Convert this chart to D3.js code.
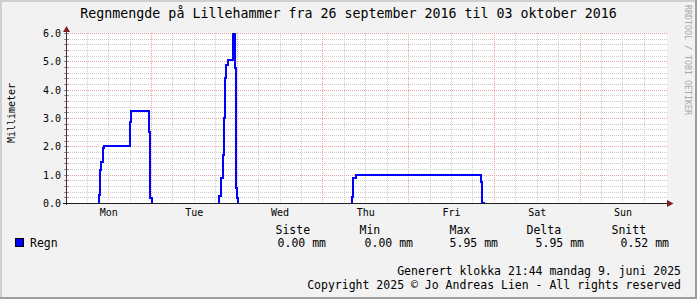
<!DOCTYPE html>
<html>
<head>
<meta charset="utf-8">
<script src="https://cdn.jsdelivr.net/npm/d3@7"></script>
<style>
  html, body { margin: 0; padding: 0; background: #f2f2f2; }
  svg { display: block; font-family: "DejaVu Sans Mono", monospace; }
</style>
</head>
<body>
<div class="chart"></div>
<script>
const title = "Regnmengde på Lillehammer fra 26 september 2016 til 03 oktober 2016";
const days = ["Mon", "Tue", "Wed", "Thu", "Fri", "Sat", "Sun"];
const yTicks = [0, 1, 2, 3, 4, 5, 6];

// hours since Mon 26 sept 00:00, null breaks the line
const hours = [
  9.16, 9.16, 9.5, 9.95, 10.4, 10.75, 17.9, 18.25, 23.4, 23.7, 24.1, 24.5, 24.5,
  43.0, 43.0, 43.5, 43.9, 44.2, 44.4, 44.7, 44.9, 45.4, 46.8, 47.4, 47.6, 47.9, 48.2, 48.5, 48.5,
  80.05, 80.05, 80.5, 81.2, 116.2, 116.6, 117.4
];
const rain = [
  0, 0.28, 1.16, 1.46, 1.93, 2.02, 2.85, 3.25, 2.52, 0.18, 0, 0, null,
  0, 0.24, 0.88, 1.71, 2.18, 3.0, 4.41, 4.88, 5.06, 5.95, 4.76, 0.53, 0.18, 0, 0, null,
  0, 0.22, 0.87, 1.0, 0.75, 0, 0
];

const statNames = ["Siste", "Min", "Max", "Delta", "Snitt"];
const statValues = [0.00, 0.00, 5.95, 5.95, 0.52];
const seriesName = "Regn";
const unitLabel = "Millimeter";
const footer1 = "Generert klokka 21:44 mandag 9. juni 2025";
const footer2 = "Copyright 2025 © Jo Andreas Lien - All rights reserved";
const watermark = "RRDTOOL / TOBI OETIKER";

const width = 697;
const height = 299;
const x0 = 65.8, x1 = 665.8;
const yBottom = 203.5, yTop = 33.5;

const svg = d3.select(".chart")
  .append("svg")
  .attr("width", width)
  .attr("height", height);

// background + 3d frame
svg.append("rect").attr("width", width).attr("height", height).attr("fill", "#f2f2f2");
svg.append("rect").attr("x", 0).attr("y", 0).attr("width", width).attr("height", 2).attr("fill", "#cfcfcf");
svg.append("rect").attr("x", 0).attr("y", 0).attr("width", 2).attr("height", height).attr("fill", "#cfcfcf");
svg.append("rect").attr("x", 0).attr("y", height - 2).attr("width", width).attr("height", 2).attr("fill", "#9e9e9e");
svg.append("rect").attr("x", width - 2).attr("y", 0).attr("width", 2).attr("height", height).attr("fill", "#9e9e9e");

const xScale = d3.scaleLinear().domain([0, 168]).range([x0, x1]);
const yScale = d3.scaleLinear().domain([0, 6]).range([yBottom, yTop]);

// canvas
svg.append("rect")
  .attr("x", 66).attr("y", 33)
  .attr("width", 601).attr("height", 171)
  .attr("fill", "#ffffff");

const px = v => Math.floor(v) + 0.5;

// horizontal grid
const minorY = d3.range(1, 31).map(i => i * 0.2).filter(v => Math.abs(v - Math.round(v)) > 0.01);
svg.append("g").selectAll("line")
  .data(minorY).enter().append("line")
  .attr("x1", 66).attr("x2", 667)
  .attr("y1", d => px(yScale(d))).attr("y2", d => px(yScale(d)))
  .attr("stroke", "#cccccc").attr("stroke-dasharray", "1,1")
  .attr("shape-rendering", "crispEdges");

// vertical grid
const minorX = d3.range(1, 28).map(i => i * 6).filter(h => h % 24 != 0);
svg.append("g").selectAll("line")
  .data(minorX).enter().append("line")
  .attr("x1", d => px(xScale(d))).attr("x2", d => px(xScale(d)))
  .attr("y1", 33).attr("y2", 203)
  .attr("stroke", "#cccccc").attr("stroke-dasharray", "1,1")
  .attr("shape-rendering", "crispEdges");

svg.append("g").selectAll("line")
  .data(yTicks.filter(d => d > 0)).enter().append("line")
  .attr("x1", 66).attr("x2", 667)
  .attr("y1", d => px(yScale(d))).attr("y2", d => px(yScale(d)))
  .attr("stroke", "#eaa4a4").attr("stroke-dasharray", "1,1")
  .attr("shape-rendering", "crispEdges");

svg.append("g").selectAll("line")
  .data(d3.range(1, 7).map(i => i * 24)).enter().append("line")
  .attr("x1", d => px(xScale(d))).attr("x2", d => px(xScale(d)))
  .attr("y1", 33).attr("y2", 203)
  .attr("stroke", "#eaa4a4").attr("stroke-dasharray", "1,1")
  .attr("shape-rendering", "crispEdges");

// y-axis ticks
svg.append("g").selectAll("line")
  .data(d3.range(0, 31).map(i => i * 0.2)).enter().append("line")
  .attr("x1", 64).attr("x2", 69)
  .attr("y1", d => px(yScale(d))).attr("y2", d => px(yScale(d)))
  .attr("stroke", "#8f8f8f")
  .attr("shape-rendering", "crispEdges");

// data line
const points = hours.map((h, i) => [h, rain[i]]);
const line = d3.line()
  .defined(d => d[1] != null)
  .x(d => xScale(d[0]))
  .y(d => yScale(d[1]) - 0.5)
  .curve(d3.curveStepAfter);

svg.append("clipPath").attr("id", "plot")
  .append("rect").attr("x", 66).attr("y", 30).attr("width", 602).attr("height", 174);

svg.append("path")
  .datum(points)
  .attr("clip-path", "url(#plot)")
  .attr("d", line)
  .attr("fill", "none")
  .attr("stroke", "#0000ff")
  .attr("stroke-width", 2)
  .attr("shape-rendering", "crispEdges");

// axes
svg.append("line")
  .attr("x1", 66.5).attr("x2", 66.5).attr("y1", 205).attr("y2", 28)
  .attr("stroke", "#5a2a2a").attr("shape-rendering", "crispEdges");
svg.append("line")
  .attr("x1", 63).attr("x2", 669).attr("y1", 203.5).attr("y2", 203.5)
  .attr("stroke", "#1f1f1f").attr("shape-rendering", "crispEdges");
svg.append("path")
  .attr("d", "M66.5,26 L70,32 L63,32 Z")
  .attr("fill", "#801f1f");
svg.append("path")
  .attr("d", "M673.5,203.5 L667,200 L667,207 Z")
  .attr("fill", "#801f1f");

// y labels
svg.append("g").selectAll("text")
  .data(yTicks).enter().append("text")
  .attr("x", 61)
  .attr("y", d => px(yScale(d)) + 3.5)
  .attr("text-anchor", "end")
  .style("font-size", "10px")
  .text(d => d3.format(".1f")(d));

// day labels
svg.append("g").selectAll("text")
  .data(days).enter().append("text")
  .attr("x", (d, i) => xScale(i * 24 + 12))
  .attr("y", 216)
  .attr("text-anchor", "middle")
  .style("font-size", "10px")
  .text(d => d);

svg.append("text")
  .attr("transform", "translate(15,113) rotate(-90)")
  .attr("text-anchor", "middle")
  .style("font-size", "10px")
  .text(unitLabel);

svg.append("text")
  .attr("x", 348.5).attr("y", 18)
  .attr("text-anchor", "middle")
  .style("font-size", "13.3px")
  .text(title);

svg.append("text")
  .attr("transform", "translate(685,5) rotate(90)")
  .style("font-size", "8.3px")
  .attr("fill", "#a8a8a8")
  .text(watermark);

// legend
svg.append("rect")
  .attr("x", 15.5).attr("y", 238.5).attr("width", 8).attr("height", 8)
  .attr("fill", "#0000ff").attr("stroke", "#000");
svg.append("text")
  .attr("x", 30).attr("y", 247)
  .style("font-size", "11.5px")
  .text(seriesName);

const headX = [276, 360, 450, 527, 612];
const valEnd = [326, 413, 498, 584, 669];
svg.append("g").selectAll("text")
  .data(statNames).enter().append("text")
  .attr("x", (d, i) => headX[i] - 0.5)
  .attr("y", 233.5)
  .style("font-size", "11.5px")
  .text(d => d);
svg.append("g").selectAll("text")
  .data(statValues).enter().append("text")
  .attr("x", (d, i) => valEnd[i])
  .attr("y", 247)
  .attr("text-anchor", "end")
  .style("font-size", "11.5px")
  .text(d => d3.format(".2f")(d) + " mm");

svg.append("text")
  .attr("x", 681).attr("y", 275)
  .attr("text-anchor", "end")
  .style("font-size", "11.5px")
  .text(footer1);
svg.append("text")
  .attr("x", 681).attr("y", 288.5)
  .attr("text-anchor", "end")
  .style("font-size", "11.5px")
  .text(footer2);
</script>
</body>
</html>
